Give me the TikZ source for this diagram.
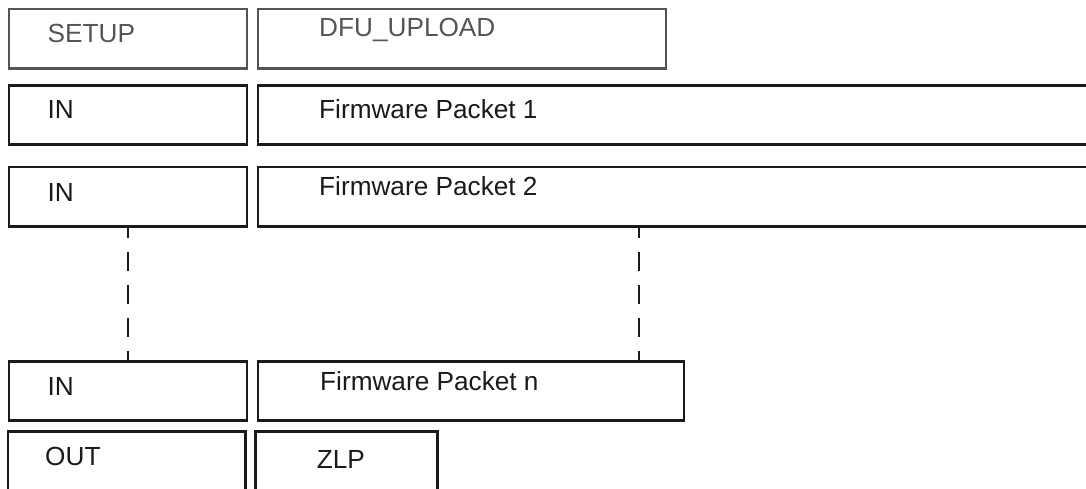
\documentclass[tikz,border=0pt]{standalone}
\usepackage{fontspec}
\setmainfont{Liberation Sans}
\definecolor{setupgray}{HTML}{555555}
\definecolor{linedark}{HTML}{1A1A1A}

\begin{document}
\begin{tikzpicture}[
        x=1pt, y=-1pt,
        token/.style={rectangle, draw=linedark, line width=2.6pt, minimum width=238pt, minimum height=59.5pt, inner sep=0pt},
        setup_stage/.style={draw=setupgray},
        field_text/.style={anchor=base west, inner sep=0pt, font=\fontsize{26.2}{30}\selectfont, text=linedark},
        gap_line/.style={draw=linedark, line width=2.2pt, dash pattern=on 19pt off 14pt, dash phase=9pt}
    ]
        \useasboundingbox (0,0) rectangle (1086,489);
        \clip (0,0) rectangle (1086,489);

        % Setup stage
        \node[token, setup_stage] (setup) at (128, 38.75) {};
        \node[token, setup_stage, minimum width=408pt] (dfu_upload) at (462, 38.75) {};

        % Data stage, first packets (open to the right)
        \node[token] (in_first) at (128, 115) {};
        \node[token, minimum width=850pt] (packet_first) at (683, 115) {};
        \node[token] (in_second) at (128, 196.75) {};
        \node[token, minimum width=850pt] (packet_second) at (683, 196.75) {};

        % Data stage, last packet
        \node[token] (in_last) at (128, 391) {};
        \node[token, minimum width=426pt] (packet_last) at (471, 391) {};

        % Status stage (open at the bottom)
        \node[token, minimum width=237.3pt, minimum height=88.7pt] (out_status) at (126.65, 475.65) {};
        \node[token, minimum width=181.6pt, minimum height=88.7pt] (zlp) at (346.5, 475.65) {};

        % Gaps between packet 2 and packet n
        \draw[gap_line] (in_second.south) -- (in_last.north);
        \draw[gap_line] ([xshift=382pt]packet_second.south west) -- ([xshift=382pt]packet_last.north west);

        % Field texts
        \node[field_text, text=setupgray] (setup_text) at (47.5, 43) {SETUP};
        \node[field_text, text=setupgray] (dfu_text) at (319, 36.5) {DFU\_UPLOAD};
        \node[field_text] (in_first_text) at (47.5, 119) {IN};
        \node[field_text] (packet_first_text) at (319, 119) {Firmware Packet 1};
        \node[field_text] (in_second_text) at (47.5, 201.5) {IN};
        \node[field_text] (packet_second_text) at (319, 195) {Firmware Packet 2};
        \node[field_text] (in_last_text) at (47.5, 395.5) {IN};
        \node[field_text] (packet_last_text) at (320, 390) {Firmware Packet n};
        \node[field_text] (out_text) at (45, 465.5) {OUT};
        \node[field_text] (zlp_text) at (316.7, 468.3) {ZLP};

    \end{tikzpicture}
\end{document}
